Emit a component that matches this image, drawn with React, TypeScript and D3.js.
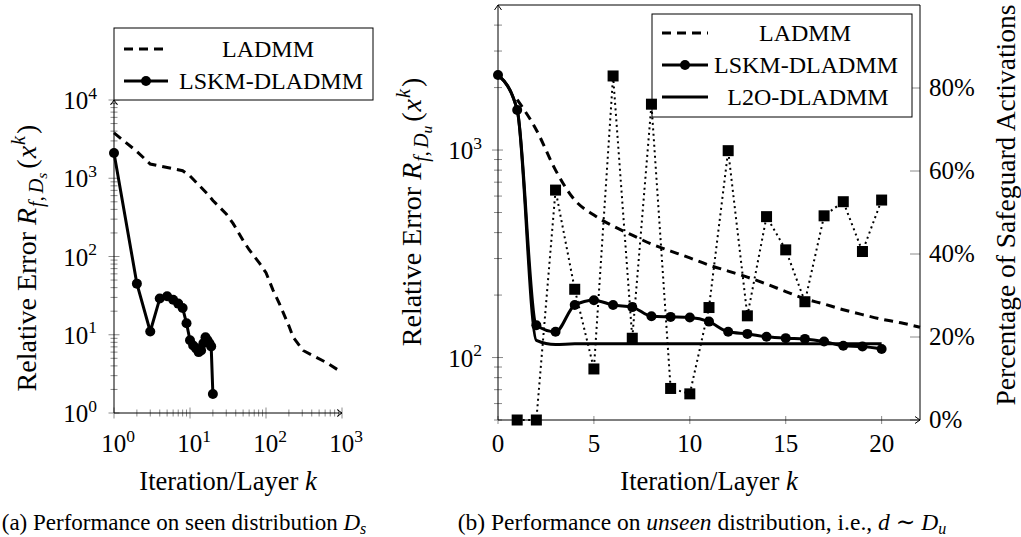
import React from "react";
import * as d3 from "d3";

// ---------- data: left panel (seen distribution) ----------
const leftLadmmK = [1, 2, 3, 8, 10, 17, 20, 30, 37, 50, 60, 83, 100, 124, 150, 200, 228, 308, 400, 600, 1000];
const leftLadmmVal = [3800, 2200, 1520, 1250, 1070, 630, 520, 350, 263, 160, 122, 81, 62, 37, 25, 13, 9.3, 6.3, 5.5, 4.5, 3.3];
const leftLskmK = [1, 2, 3, 4, 5, 6, 7, 8, 9, 10, 11, 12, 13, 14, 15, 16, 17, 18, 19, 20];
const leftLskmVal = [2100, 45, 11, 29, 31, 28, 25, 22, 14, 8.5, 7.3, 6.7, 6.0, 6.3, 7.8, 9.3, 8.5, 7.8, 7.1, 1.75];
const leftXMajor = [1, 10, 100, 1000];
const leftYMajor = [1, 10, 100, 1000, 10000];

// ---------- data: right panel (unseen distribution) ----------
const rightLadmmK = [1, 2, 3, 4, 5, 6, 7, 8, 9, 10, 11, 12, 13, 14, 15, 16, 17, 18, 19, 20, 21, 22];
const rightLadmmVal = [1750, 1250, 800, 574, 486, 430, 389, 352, 326, 302, 279, 261, 244, 226, 208, 192, 181, 170, 161, 153, 147, 140];
const rightK = [0, 1, 2, 3, 4, 5, 6, 7, 8, 9, 10, 11, 12, 13, 14, 15, 16, 17, 18, 19, 20];
const rightLskmVal = [2300, 1560, 143, 133, 179, 189, 179, 175, 158, 157, 156, 149, 133, 130, 126, 124, 123, 119.5, 114, 113, 110];
const rightL2oVal = [2300, 1560, 121, 115.5, 116.5, 116.5, 116.5, 116.5, 116.5, 116.5, 116.5, 116.5, 116.5, 116.5, 116.5, 116.5, 116.5, 116.5, 116.5, 116.5, 116.5];
const safeguardK = [1, 2, 3, 4, 5, 6, 7, 8, 9, 10, 11, 12, 13, 14, 15, 16, 17, 18, 19, 20];
const safeguardPct = [0, 0, 55.4, 31.5, 12.3, 82.9, 19.7, 76.1, 7.6, 6.3, 27.1, 64.9, 25.1, 49, 41, 28.5, 49.2, 52.6, 40.6, 53];
const rightXTicks = [0, 5, 10, 15, 20];
const rightYMajor = [100, 1000];
const rightPctTicks = [0, 20, 40, 60, 80];

const legendLeft = ["LADMM", "LSKM-DLADMM"];
const legendRight = ["LADMM", "LSKM-DLADMM", "L2O-DLADMM"];

const FONT = "Liberation Serif, DejaVu Serif, serif";
const GRAY = "#8a8a8a";
const DASH = "9 6";

function minorLog(lo: number, hi: number): number[] {
  const out: number[] = [];
  for (let d = lo; d < hi; d *= 10) {
    for (let m = 2; m <= 9; m++) out.push(d * m);
  }
  return out;
}

const Pow10 = ({ x, y, e, anchor, size }: any) => (
  <text x={x} y={y} textAnchor={anchor} fontSize={size}>
    10<tspan dy={-size * 0.42} fontSize={size * 0.7}>{e}</tspan>
  </text>
);

const RelErrLabel = ({ x, y, sub, size }: any) => (
  <text transform={`translate(${x},${y}) rotate(-90)`} textAnchor="middle" fontSize={size}>
    Relative Error <tspan fontStyle="italic">R</tspan>
    <tspan fontSize={size * 0.72} dy={7} dx={1} fontStyle="italic">f</tspan>
    <tspan fontSize={size * 0.72}>,</tspan>
    <tspan fontSize={size * 0.72} dx={3} fontStyle="italic">D</tspan>
    <tspan fontSize={size * 0.55} dy={4} fontStyle="italic">{sub}</tspan>
    <tspan dy={-11} dx={4}>(</tspan>
    <tspan fontStyle="italic" dx={1}>x</tspan>
    <tspan fontSize={size * 0.72} dy={-11} dx={1} fontStyle="italic">k</tspan>
    <tspan dy={11} dx={2}>)</tspan>
  </text>
);

export default function App() {
  // left scales
  const xL = d3.scaleLog().domain([1, 1000]).range([114, 342]);
  const yL = d3.scaleLog().domain([1, 10000]).range([413, 100]);
  // right scales
  const xR = d3.scaleLinear().domain([0, 22]).range([498, 920]);
  const yR = d3.scaleLog().domain([50, 5000]).range([420, 5]);
  const yP = d3.scaleLinear().domain([0, 100]).range([420, 5]);

  const ladmmLPath = d3.line()(leftLadmmK.map((k, i) => [xL(k), yL(leftLadmmVal[i])]) as any) as string;
  const lskmLPts = leftLskmK.map((k, i) => [xL(k), yL(leftLskmVal[i])]);
  const lskmLPath = d3.line()(lskmLPts as any) as string;

  const smooth = d3.line().curve(d3.curveMonotoneX);
  const ladmmRPath = smooth(rightLadmmK.map((k, i) => [xR(k), yR(rightLadmmVal[i])]) as any) as string;
  const lskmRPts = rightK.map((k, i) => [xR(k), yR(rightLskmVal[i])]);
  const lskmRPath = smooth(lskmRPts as any) as string;
  const l2oRPath = smooth(rightK.map((k, i) => [xR(k), yR(rightL2oVal[i])]) as any) as string;
  const sgPts = safeguardK.map((k, i) => [xR(k), yP(safeguardPct[i])]);
  const sgPath = d3.line()(sgPts as any) as string;

  const tickFs = 25;
  const labelFs = 26.5;
  const yLabelFs = 28;
  const legendFs = 24;
  const capFs = 23;

  return (
    <svg width={1021} height={537} style={{ position: "absolute", left: 0, top: 0, fontFamily: FONT }} viewBox="0 0 1021 537">
      <rect width={1021} height={537} fill="#fff" />
      {/* ================= LEFT PANEL ================= */}
      <g>
        {minorLog(1, 1000).map((v) => (
          <line key={"lxm" + v} x1={xL(v)} x2={xL(v)} y1={413 - 3.5} y2={413 + 3.5} stroke={GRAY} strokeWidth={1} />
        ))}
        {minorLog(1, 10000).map((v) => (
          <line key={"lym" + v} x1={114 - 3.5} x2={114 + 3.5} y1={yL(v)} y2={yL(v)} stroke={GRAY} strokeWidth={1} />
        ))}
        {leftXMajor.map((v) => (
          <line key={"lxM" + v} x1={xL(v)} x2={xL(v)} y1={413 - 5.5} y2={413 + 5.5} stroke={GRAY} strokeWidth={1} />
        ))}
        {leftYMajor.map((v) => (
          <line key={"lyM" + v} x1={114 - 5.5} x2={114 + 5.5} y1={yL(v)} y2={yL(v)} stroke={GRAY} strokeWidth={1} />
        ))}
        <line x1={114} x2={342} y1={413} y2={413} stroke="#000" strokeWidth={1} />
        <line x1={114} x2={114} y1={413} y2={100} stroke="#000" strokeWidth={1} />
        <path d="M337,409.5 L342,413 L337,416.5" fill="none" stroke="#000" strokeWidth={1} />
        <path d="M110.5,105 L114,100 L117.5,105" fill="none" stroke="#000" strokeWidth={1} />
        {leftYMajor.map((v) => (
          <Pow10 key={"lyl" + v} x={97} y={yL(v) + 9} e={Math.round(Math.log10(v))} anchor="end" size={tickFs} />
        ))}
        {leftXMajor.map((v) => (
          <Pow10 key={"lxl" + v} x={xL(v) + 4} y={452} e={Math.round(Math.log10(v))} anchor="middle" size={tickFs} />
        ))}
        <path d={ladmmLPath} fill="none" stroke="#000" strokeWidth={3} strokeDasharray={DASH} />
        <path d={lskmLPath} fill="none" stroke="#000" strokeWidth={3} strokeLinejoin="round" />
        {lskmLPts.map((p, i) => (
          <circle key={"lc" + i} cx={p[0]} cy={p[1]} r={5} fill="#000" />
        ))}
        <rect x={114} y={28} width={259} height={72} fill="#fff" stroke="#000" strokeWidth={1} />
        <line x1={124} x2={166} y1={49} y2={49} stroke="#000" strokeWidth={3} strokeDasharray={DASH} />
        <line x1={124} x2={168} y1={81} y2={81} stroke="#000" strokeWidth={3} />
        <circle cx={146} cy={81} r={5} fill="#000" />
        <text x={268} y={57} textAnchor="middle" fontSize={legendFs}>{legendLeft[0]}</text>
        <text x={271} y={89} textAnchor="middle" fontSize={legendFs}>{legendLeft[1]}</text>
        <text x={228} y={490} textAnchor="middle" fontSize={labelFs}>
          Iteration/Layer <tspan fontStyle="italic">k</tspan>
        </text>
        <RelErrLabel x={36} y={258} sub="s" size={yLabelFs} />
        <text x={184} y={530} textAnchor="middle" fontSize={capFs}>
          (a) Performance on seen distribution <tspan fontStyle="italic">D</tspan>
          <tspan fontSize={16} dy={4} fontStyle="italic">s</tspan>
        </text>
      </g>

      {/* ================= RIGHT PANEL ================= */}
      <g>
        {minorLog(10, 1000)
          .filter((v) => v >= 50 && v < 5000)
          .concat([2000, 3000, 4000])
          .map((v) => (
            <line key={"rym" + v} x1={498 - 4} x2={498 + 4} y1={yR(v)} y2={yR(v)} stroke={GRAY} strokeWidth={1} />
          ))}
        {rightYMajor.map((v) => (
          <line key={"ryM" + v} x1={498 - 6} x2={498 + 5} y1={yR(v)} y2={yR(v)} stroke={GRAY} strokeWidth={1} />
        ))}
        {rightXTicks.map((v) => (
          <line key={"rxM" + v} x1={xR(v)} x2={xR(v)} y1={420 - 4} y2={420 + 4} stroke={GRAY} strokeWidth={1} />
        ))}
        {rightPctTicks.map((v) => (
          <line key={"rpM" + v} x1={920 - 10} x2={920} y1={yP(v)} y2={yP(v)} stroke={GRAY} strokeWidth={1} />
        ))}
        <line x1={498} x2={920} y1={420} y2={420} stroke="#000" strokeWidth={1} />
        <line x1={498} x2={498} y1={420} y2={5} stroke="#000" strokeWidth={1} />
        <line x1={498} x2={920} y1={5} y2={5} stroke="#000" strokeWidth={1} />
        <line x1={920} x2={920} y1={5} y2={420} stroke="#000" strokeWidth={1} />
        <path d="M915,416.5 L920,420 L915,423.5" fill="none" stroke="#000" strokeWidth={1} />
        <path d="M494.5,10 L498,5 L501.5,10" fill="none" stroke="#000" strokeWidth={1} />
        {rightYMajor.map((v) => (
          <Pow10 key={"ryl" + v} x={482} y={yR(v) + 9} e={Math.round(Math.log10(v))} anchor="end" size={tickFs} />
        ))}
        {rightXTicks.map((v) => (
          <text key={"rxl" + v} x={xR(v)} y={452} textAnchor="middle" fontSize={tickFs}>{v}</text>
        ))}
        {rightPctTicks.map((v) => (
          <text key={"rpl" + v} x={929} y={yP(v) + 8} textAnchor="start" fontSize={tickFs}>{v}%</text>
        ))}
        <path d={ladmmRPath} fill="none" stroke="#000" strokeWidth={3} strokeDasharray={DASH} />
        <path d={l2oRPath} fill="none" stroke="#000" strokeWidth={3} />
        <path d={lskmRPath} fill="none" stroke="#000" strokeWidth={3} />
        {lskmRPts.map((p, i) => (
          <circle key={"rc" + i} cx={p[0]} cy={p[1]} r={5} fill="#000" />
        ))}
        <rect x={652} y={14} width={260} height={103} fill="#fff" stroke="#000" strokeWidth={1} />
        <line x1={662} x2={708} y1={33} y2={33} stroke="#000" strokeWidth={3} strokeDasharray={DASH} />
        <line x1={662} x2={708} y1={65} y2={65} stroke="#000" strokeWidth={3} />
        <circle cx={685} cy={65} r={5} fill="#000" />
        <line x1={662} x2={708} y1={97} y2={97} stroke="#000" strokeWidth={3} />
        <text x={805} y={41} textAnchor="middle" fontSize={legendFs}>{legendRight[0]}</text>
        <text x={806} y={73} textAnchor="middle" fontSize={legendFs}>{legendRight[1]}</text>
        <text x={808} y={105} textAnchor="middle" fontSize={legendFs}>{legendRight[2]}</text>
        <path d={sgPath} fill="none" stroke="#000" strokeWidth={2} strokeDasharray="2 3.5" />
        {sgPts.map((p, i) => (
          <rect key={"sq" + i} x={p[0] - 5.5} y={p[1] - 5.5} width={11} height={11} fill="#000" />
        ))}
        <text x={709} y={490} textAnchor="middle" fontSize={labelFs}>
          Iteration/Layer <tspan fontStyle="italic">k</tspan>
        </text>
        <RelErrLabel x={421} y={212} sub="u" size={yLabelFs} />
        <text transform="translate(1015,205) rotate(-90)" textAnchor="middle" fontSize={27.5}>
          Percentage of Safeguard Activations
        </text>
        <text x={702} y={530} textAnchor="middle" fontSize={23.5}>
          (b) Performance on <tspan fontStyle="italic">unseen</tspan> distribution, i.e., <tspan fontStyle="italic">d</tspan> ∼ <tspan fontStyle="italic">D</tspan>
          <tspan fontSize={16} dy={4} fontStyle="italic">u</tspan>
        </text>
      </g>
    </svg>
  );
}
